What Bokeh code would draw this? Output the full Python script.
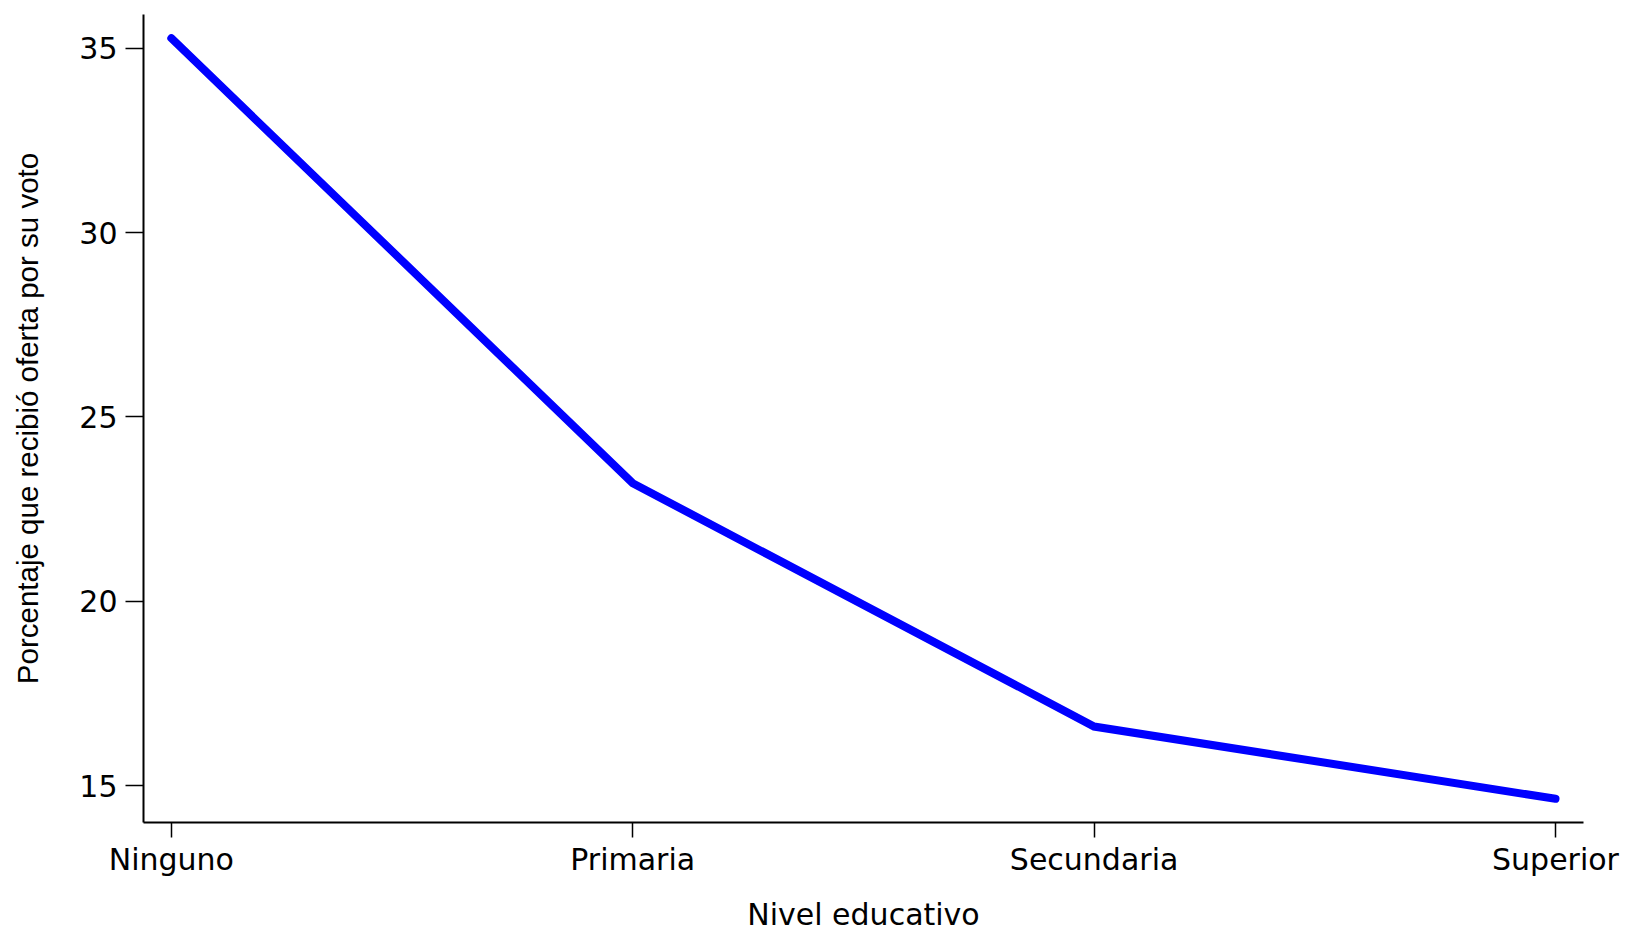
from bokeh.plotting import figure
from bokeh.models import Range1d, FixedTicker
from bokeh.embed import file_html
from bokeh.resources import INLINE

categories = ["Ninguno", "Primaria", "Secundaria", "Superior"]
values = [35.27, 23.20, 16.60, 14.64]
y_ticks = [15, 20, 25, 30, 35]

x_pos = list(range(len(categories)))

FONT = "DejaVu Sans"

p = figure(width=1629, height=934, output_backend="svg", toolbar_location=None,
           x_range=Range1d(-0.0603, 3.0607), y_range=Range1d(13.997, 35.913),
           min_border_left=143, min_border_right=46, min_border_top=14,
           min_border_bottom=111)
p.outline_line_color = None
p.background_fill_color = "white"
p.border_fill_color = "white"
p.xgrid.visible = False
p.ygrid.visible = False

p.line(x_pos, values, line_color="#0000FF", line_width=8,
       line_cap="round", line_join="miter")

p.xaxis.ticker = FixedTicker(ticks=x_pos)
p.xaxis.major_label_overrides = {i: c for i, c in enumerate(categories)}
p.yaxis.ticker = FixedTicker(ticks=y_ticks)

for ax in (p.xaxis[0], p.yaxis[0]):
    ax.axis_line_color = "black"
    ax.axis_line_width = 2
    ax.major_tick_line_color = "black"
    ax.major_tick_line_width = 1.5
    ax.minor_tick_line_color = None
    ax.major_tick_in = 0
    ax.major_label_text_font = FONT
    ax.major_label_text_font_size = "30px"
    ax.major_label_text_color = "black"
    ax.axis_label_text_font = FONT
    ax.axis_label_text_font_size = "30px"
    ax.axis_label_text_font_style = "normal"
    ax.axis_label_text_color = "black"

p.yaxis.axis_label_text_font = "Liberation Sans"
p.yaxis.axis_label_text_font_size = "29.5px"

p.xaxis.axis_label = "Nivel educativo"
p.yaxis.axis_label = "Porcentaje que recibió oferta por su voto"

p.xaxis.major_tick_out = 15
p.yaxis.major_tick_out = 18
p.xaxis.major_label_standoff = 4
p.yaxis.major_label_standoff = 8
p.xaxis.axis_label_standoff = 17
p.yaxis.axis_label_standoff = 32
p.xaxis.major_label_text_line_height = 1.0
p.xaxis.axis_label_text_line_height = 1.0

open("out.html", "w").write(file_html(p, INLINE))
